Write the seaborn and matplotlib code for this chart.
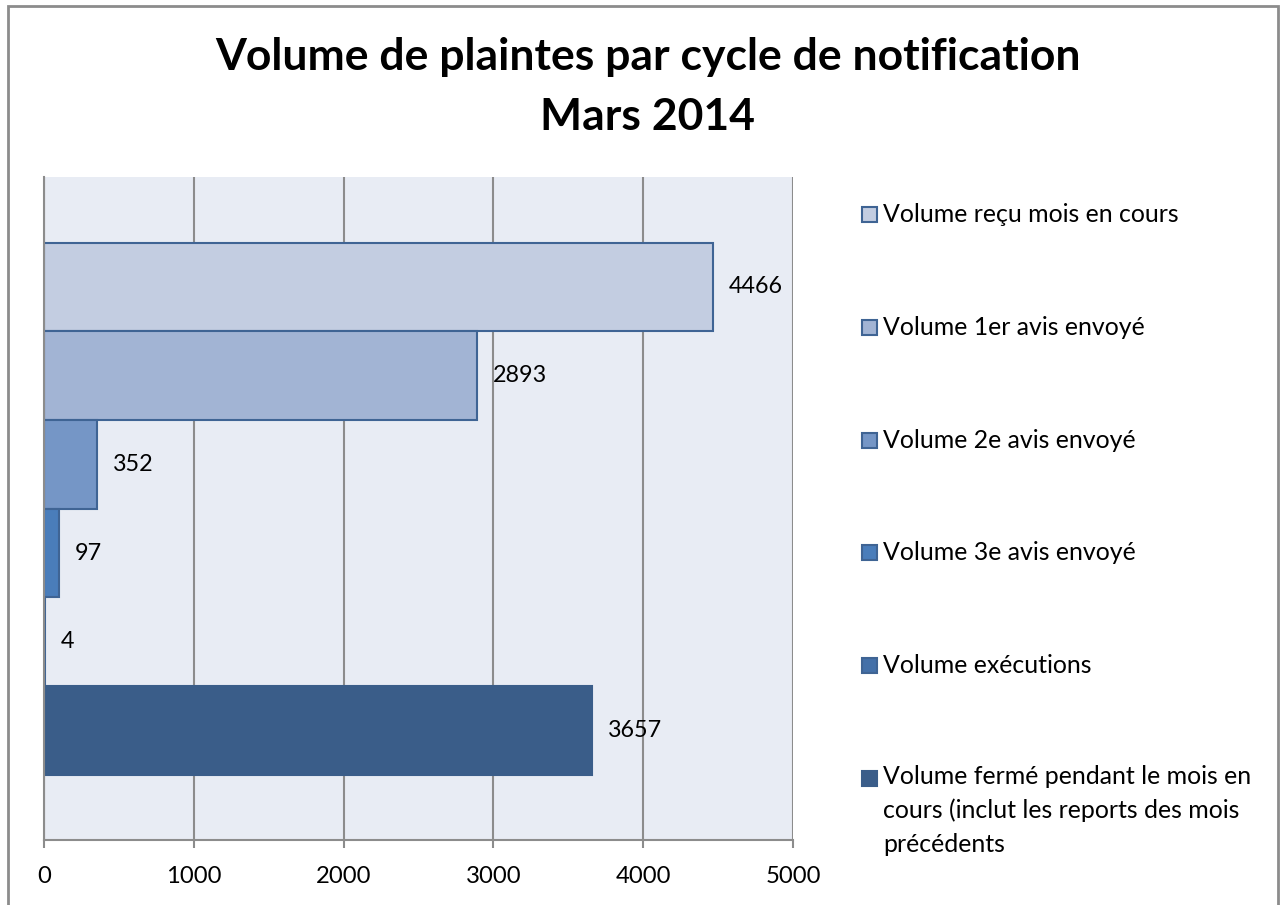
import matplotlib
matplotlib.use("Agg")
import matplotlib.pyplot as plt
import seaborn as sns
import pandas as pd
from matplotlib.patches import Rectangle

# data
series = ["Volume reçu mois en cours",
          "Volume 1er avis envoyé",
          "Volume 2e avis envoyé",
          "Volume 3e avis envoyé",
          "Volume exécutions",
          "Volume fermé pendant le mois en\ncours (inclut les reports des mois\nprécédents"]
volumes = [4466, 2893, 352, 97, 4, 3657]
x_ticks = [0, 1000, 2000, 3000, 4000, 5000]

# colors
fill_colors = ["#C3CDE1", "#A2B4D4", "#7596C6", "#4A7DBA", "#4470A8", "#3A5D89"]
edge_colors = ["#3F6494", "#3F6494", "#3F6494", "#3F6494", "#3F6494", "#3A5D89"]
grid_gray = "#8C8C8C"

df = pd.DataFrame({"serie": series, "volume": volumes})

sns.set_style("white")
plt.rcParams["font.family"] = ["Lato", "DejaVu Sans"]
plt.rcParams["text.color"] = "black"
plt.rcParams["xtick.color"] = "black"

W, H = 1280, 905
fig = plt.figure(figsize=(W / 100, H / 100), dpi=100)
ax = fig.add_axes([44 / W, 1 - 840 / H, 749 / W, 663 / H])

sns.barplot(data=df, y="serie", x="volume", hue="serie", hue_order=series,
            palette=fill_colors, saturation=1, width=1.0, orient="h",
            legend=False, ax=ax)

for patch, ec in zip(ax.patches, edge_colors):
    patch.set_edgecolor(ec)
    patch.set_linewidth(1.5)

# value labels
for cont in ax.containers:
    ax.bar_label(cont, padding=11.5, fontsize=16.8, color="black")

# axes style
ax.set_facecolor("#E8ECF4")
ax.set_xlim(0, 5000)
ax.set_ylim(5.5 + 0.735, -0.5 - 0.74)
ax.set_xticks(x_ticks)
ax.xaxis.grid(True, color=grid_gray, linewidth=1.5)
ax.set_axisbelow(True)
ax.set_xlabel("")
ax.set_ylabel("")
ax.tick_params(axis="y", left=False, labelleft=False)
ax.tick_params(axis="x", bottom=True, direction="out", length=6, width=1.5,
               color=grid_gray, labelcolor="black", pad=13, labelsize=17.2)
for side in ["top", "right"]:
    ax.spines[side].set_visible(False)
for side in ["left", "bottom"]:
    ax.spines[side].set_color(grid_gray)
    ax.spines[side].set_linewidth(1.5)

# title
fig.text(648 / W, 1 - 70 / H, "Volume de plaintes par cycle de notification",
         ha="center", va="baseline", fontsize=32, fontweight="bold", color="black")
fig.text(648 / W, 1 - 130 / H, "Mars 2014",
         ha="center", va="baseline", fontsize=32, fontweight="bold", color="black")

# legend
line_px = 33
for i, (lab, fc, ec) in enumerate(zip(series, fill_colors, edge_colors)):
    yb = 222 + 112.8 * i
    n_lines = lab.count("\n") + 1
    fig.patches.append(Rectangle((862 / W, 1 - yb / H), 15 / W, 15 / H,
                                 transform=fig.transFigure, facecolor=fc,
                                 edgecolor=ec, linewidth=1.5))
    # baseline of a multi-line text is the last line
    fig.text(883 / W, 1 - (yb + (n_lines - 1) * line_px) / H, lab,
             ha="left", va="baseline", fontsize=17.9, linespacing=1.56,
             color="black")

# outer border
fig.patches.append(Rectangle((8 / W, -0.01), 1270 / W, 1.01 - 6 / H,
                             transform=fig.transFigure, facecolor="none",
                             edgecolor=grid_gray, linewidth=2))

fig.savefig("out.png", dpi=100)
